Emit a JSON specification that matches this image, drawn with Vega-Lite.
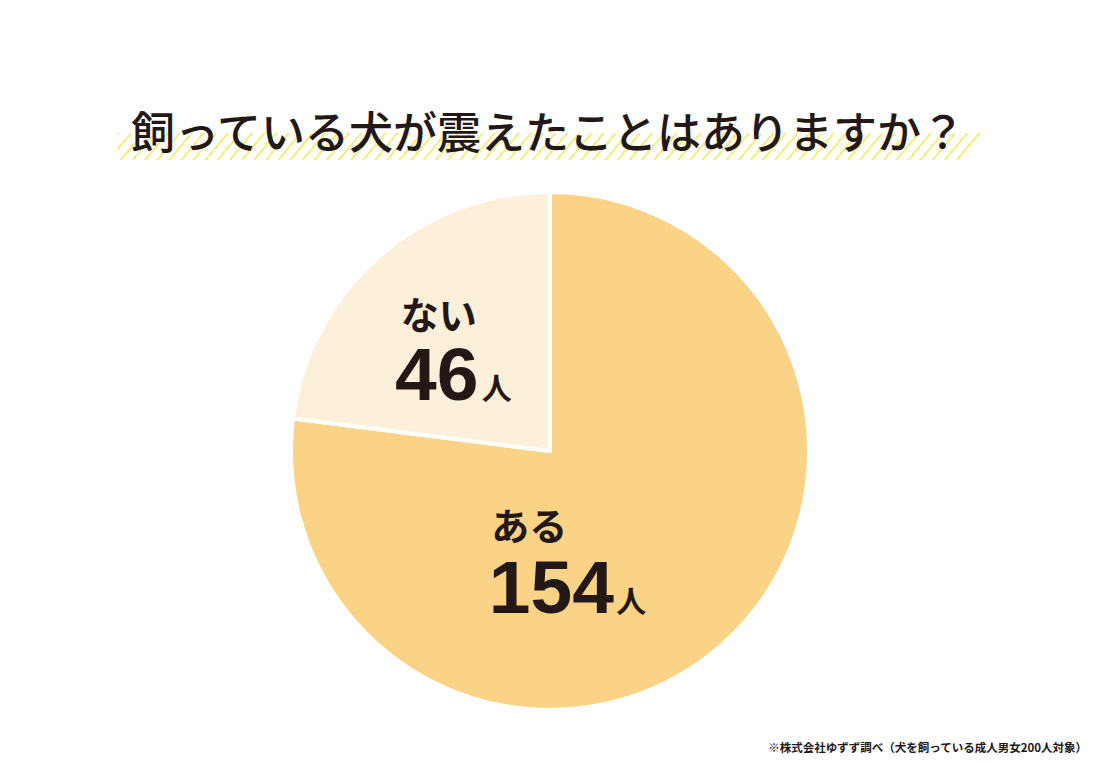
{
  "$schema": "https://vega.github.io/schema/vega-lite/v6.json",
  "padding": {"top": 114, "left": 0, "right": 0, "bottom": 0},
  "background": "white",
  "config": {"view": {"stroke": null}},
  "title": {
    "text": "※株式会社ゆずず調べ（犬を飼っている成人男女200人対象）",
    "orient": "bottom", "anchor": "end", "font": "Noto Sans CJK JP", "fontSize": 11.5, "fontWeight": "bold",
    "color": "#231815", "offset": 40, "baseline": "alphabetic", "dx": -13
  },
  "center": true,
  "spacing": 30,
  "vconcat": [
    {
      "width": 865,
      "height": 27,
      "data": {"values": [{"band": "title"}]},
      "layer": [
        {
          "mark": {
            "type": "rect",
            "fill": {
              "gradient": "linear", "x1": 0, "y1": 0, "x2": 1, "y2": 0.026,
              "stops": [
                {"offset": 0, "color": "#F4EF8F"}, {"offset": 0.0035, "color": "#F4EF8F"}, {"offset": 0.0035, "color": "#FFFFFF"}, {"offset": 0.014, "color": "#FFFFFF"},
                {"offset": 0.014, "color": "#F4EF8F"}, {"offset": 0.0175, "color": "#F4EF8F"}, {"offset": 0.0175, "color": "#FFFFFF"}, {"offset": 0.028, "color": "#FFFFFF"},
                {"offset": 0.028, "color": "#F4EF8F"}, {"offset": 0.0315, "color": "#F4EF8F"}, {"offset": 0.0315, "color": "#FFFFFF"}, {"offset": 0.042, "color": "#FFFFFF"},
                {"offset": 0.042, "color": "#F4EF8F"}, {"offset": 0.0455, "color": "#F4EF8F"}, {"offset": 0.0455, "color": "#FFFFFF"}, {"offset": 0.056, "color": "#FFFFFF"},
                {"offset": 0.056, "color": "#F4EF8F"}, {"offset": 0.0595, "color": "#F4EF8F"}, {"offset": 0.0595, "color": "#FFFFFF"}, {"offset": 0.07, "color": "#FFFFFF"},
                {"offset": 0.07, "color": "#F4EF8F"}, {"offset": 0.0735, "color": "#F4EF8F"}, {"offset": 0.0735, "color": "#FFFFFF"}, {"offset": 0.084, "color": "#FFFFFF"},
                {"offset": 0.084, "color": "#F4EF8F"}, {"offset": 0.0875, "color": "#F4EF8F"}, {"offset": 0.0875, "color": "#FFFFFF"}, {"offset": 0.098, "color": "#FFFFFF"},
                {"offset": 0.098, "color": "#F4EF8F"}, {"offset": 0.1015, "color": "#F4EF8F"}, {"offset": 0.1015, "color": "#FFFFFF"}, {"offset": 0.112, "color": "#FFFFFF"},
                {"offset": 0.112, "color": "#F4EF8F"}, {"offset": 0.1155, "color": "#F4EF8F"}, {"offset": 0.1155, "color": "#FFFFFF"}, {"offset": 0.126, "color": "#FFFFFF"},
                {"offset": 0.126, "color": "#F4EF8F"}, {"offset": 0.1295, "color": "#F4EF8F"}, {"offset": 0.1295, "color": "#FFFFFF"}, {"offset": 0.14, "color": "#FFFFFF"},
                {"offset": 0.14, "color": "#F4EF8F"}, {"offset": 0.1435, "color": "#F4EF8F"}, {"offset": 0.1435, "color": "#FFFFFF"}, {"offset": 0.154, "color": "#FFFFFF"},
                {"offset": 0.154, "color": "#F4EF8F"}, {"offset": 0.1575, "color": "#F4EF8F"}, {"offset": 0.1575, "color": "#FFFFFF"}, {"offset": 0.168, "color": "#FFFFFF"},
                {"offset": 0.168, "color": "#F4EF8F"}, {"offset": 0.1715, "color": "#F4EF8F"}, {"offset": 0.1715, "color": "#FFFFFF"}, {"offset": 0.182, "color": "#FFFFFF"},
                {"offset": 0.182, "color": "#F4EF8F"}, {"offset": 0.1855, "color": "#F4EF8F"}, {"offset": 0.1855, "color": "#FFFFFF"}, {"offset": 0.196, "color": "#FFFFFF"},
                {"offset": 0.196, "color": "#F4EF8F"}, {"offset": 0.1995, "color": "#F4EF8F"}, {"offset": 0.1995, "color": "#FFFFFF"}, {"offset": 0.21, "color": "#FFFFFF"},
                {"offset": 0.21, "color": "#F4EF8F"}, {"offset": 0.2135, "color": "#F4EF8F"}, {"offset": 0.2135, "color": "#FFFFFF"}, {"offset": 0.224, "color": "#FFFFFF"},
                {"offset": 0.224, "color": "#F4EF8F"}, {"offset": 0.2275, "color": "#F4EF8F"}, {"offset": 0.2275, "color": "#FFFFFF"}, {"offset": 0.238, "color": "#FFFFFF"},
                {"offset": 0.238, "color": "#F4EF8F"}, {"offset": 0.2415, "color": "#F4EF8F"}, {"offset": 0.2415, "color": "#FFFFFF"}, {"offset": 0.252, "color": "#FFFFFF"},
                {"offset": 0.252, "color": "#F4EF8F"}, {"offset": 0.2555, "color": "#F4EF8F"}, {"offset": 0.2555, "color": "#FFFFFF"}, {"offset": 0.266, "color": "#FFFFFF"},
                {"offset": 0.266, "color": "#F4EF8F"}, {"offset": 0.2695, "color": "#F4EF8F"}, {"offset": 0.2695, "color": "#FFFFFF"}, {"offset": 0.28, "color": "#FFFFFF"},
                {"offset": 0.28, "color": "#F4EF8F"}, {"offset": 0.2835, "color": "#F4EF8F"}, {"offset": 0.2835, "color": "#FFFFFF"}, {"offset": 0.294, "color": "#FFFFFF"},
                {"offset": 0.294, "color": "#F4EF8F"}, {"offset": 0.2975, "color": "#F4EF8F"}, {"offset": 0.2975, "color": "#FFFFFF"}, {"offset": 0.308, "color": "#FFFFFF"},
                {"offset": 0.308, "color": "#F4EF8F"}, {"offset": 0.3115, "color": "#F4EF8F"}, {"offset": 0.3115, "color": "#FFFFFF"}, {"offset": 0.322, "color": "#FFFFFF"},
                {"offset": 0.322, "color": "#F4EF8F"}, {"offset": 0.3255, "color": "#F4EF8F"}, {"offset": 0.3255, "color": "#FFFFFF"}, {"offset": 0.336, "color": "#FFFFFF"},
                {"offset": 0.336, "color": "#F4EF8F"}, {"offset": 0.3395, "color": "#F4EF8F"}, {"offset": 0.3395, "color": "#FFFFFF"}, {"offset": 0.35, "color": "#FFFFFF"},
                {"offset": 0.35, "color": "#F4EF8F"}, {"offset": 0.3535, "color": "#F4EF8F"}, {"offset": 0.3535, "color": "#FFFFFF"}, {"offset": 0.364, "color": "#FFFFFF"},
                {"offset": 0.364, "color": "#F4EF8F"}, {"offset": 0.3675, "color": "#F4EF8F"}, {"offset": 0.3675, "color": "#FFFFFF"}, {"offset": 0.378, "color": "#FFFFFF"},
                {"offset": 0.378, "color": "#F4EF8F"}, {"offset": 0.3815, "color": "#F4EF8F"}, {"offset": 0.3815, "color": "#FFFFFF"}, {"offset": 0.392, "color": "#FFFFFF"},
                {"offset": 0.392, "color": "#F4EF8F"}, {"offset": 0.3955, "color": "#F4EF8F"}, {"offset": 0.3955, "color": "#FFFFFF"}, {"offset": 0.406, "color": "#FFFFFF"},
                {"offset": 0.406, "color": "#F4EF8F"}, {"offset": 0.4095, "color": "#F4EF8F"}, {"offset": 0.4095, "color": "#FFFFFF"}, {"offset": 0.42, "color": "#FFFFFF"},
                {"offset": 0.42, "color": "#F4EF8F"}, {"offset": 0.4235, "color": "#F4EF8F"}, {"offset": 0.4235, "color": "#FFFFFF"}, {"offset": 0.434, "color": "#FFFFFF"},
                {"offset": 0.434, "color": "#F4EF8F"}, {"offset": 0.4375, "color": "#F4EF8F"}, {"offset": 0.4375, "color": "#FFFFFF"}, {"offset": 0.448, "color": "#FFFFFF"},
                {"offset": 0.448, "color": "#F4EF8F"}, {"offset": 0.4515, "color": "#F4EF8F"}, {"offset": 0.4515, "color": "#FFFFFF"}, {"offset": 0.462, "color": "#FFFFFF"},
                {"offset": 0.462, "color": "#F4EF8F"}, {"offset": 0.4655, "color": "#F4EF8F"}, {"offset": 0.4655, "color": "#FFFFFF"}, {"offset": 0.476, "color": "#FFFFFF"},
                {"offset": 0.476, "color": "#F4EF8F"}, {"offset": 0.4795, "color": "#F4EF8F"}, {"offset": 0.4795, "color": "#FFFFFF"}, {"offset": 0.49, "color": "#FFFFFF"},
                {"offset": 0.49, "color": "#F4EF8F"}, {"offset": 0.4935, "color": "#F4EF8F"}, {"offset": 0.4935, "color": "#FFFFFF"}, {"offset": 0.504, "color": "#FFFFFF"},
                {"offset": 0.504, "color": "#F4EF8F"}, {"offset": 0.5075, "color": "#F4EF8F"}, {"offset": 0.5075, "color": "#FFFFFF"}, {"offset": 0.518, "color": "#FFFFFF"},
                {"offset": 0.518, "color": "#F4EF8F"}, {"offset": 0.5215, "color": "#F4EF8F"}, {"offset": 0.5215, "color": "#FFFFFF"}, {"offset": 0.532, "color": "#FFFFFF"},
                {"offset": 0.532, "color": "#F4EF8F"}, {"offset": 0.5355, "color": "#F4EF8F"}, {"offset": 0.5355, "color": "#FFFFFF"}, {"offset": 0.546, "color": "#FFFFFF"},
                {"offset": 0.546, "color": "#F4EF8F"}, {"offset": 0.5495, "color": "#F4EF8F"}, {"offset": 0.5495, "color": "#FFFFFF"}, {"offset": 0.56, "color": "#FFFFFF"},
                {"offset": 0.56, "color": "#F4EF8F"}, {"offset": 0.5635, "color": "#F4EF8F"}, {"offset": 0.5635, "color": "#FFFFFF"}, {"offset": 0.574, "color": "#FFFFFF"},
                {"offset": 0.574, "color": "#F4EF8F"}, {"offset": 0.5775, "color": "#F4EF8F"}, {"offset": 0.5775, "color": "#FFFFFF"}, {"offset": 0.588, "color": "#FFFFFF"},
                {"offset": 0.588, "color": "#F4EF8F"}, {"offset": 0.5915, "color": "#F4EF8F"}, {"offset": 0.5915, "color": "#FFFFFF"}, {"offset": 0.602, "color": "#FFFFFF"},
                {"offset": 0.602, "color": "#F4EF8F"}, {"offset": 0.6055, "color": "#F4EF8F"}, {"offset": 0.6055, "color": "#FFFFFF"}, {"offset": 0.616, "color": "#FFFFFF"},
                {"offset": 0.616, "color": "#F4EF8F"}, {"offset": 0.6195, "color": "#F4EF8F"}, {"offset": 0.6195, "color": "#FFFFFF"}, {"offset": 0.63, "color": "#FFFFFF"},
                {"offset": 0.63, "color": "#F4EF8F"}, {"offset": 0.6335, "color": "#F4EF8F"}, {"offset": 0.6335, "color": "#FFFFFF"}, {"offset": 0.644, "color": "#FFFFFF"},
                {"offset": 0.644, "color": "#F4EF8F"}, {"offset": 0.6475, "color": "#F4EF8F"}, {"offset": 0.6475, "color": "#FFFFFF"}, {"offset": 0.658, "color": "#FFFFFF"},
                {"offset": 0.658, "color": "#F4EF8F"}, {"offset": 0.6615, "color": "#F4EF8F"}, {"offset": 0.6615, "color": "#FFFFFF"}, {"offset": 0.672, "color": "#FFFFFF"},
                {"offset": 0.672, "color": "#F4EF8F"}, {"offset": 0.6755, "color": "#F4EF8F"}, {"offset": 0.6755, "color": "#FFFFFF"}, {"offset": 0.686, "color": "#FFFFFF"},
                {"offset": 0.686, "color": "#F4EF8F"}, {"offset": 0.6895, "color": "#F4EF8F"}, {"offset": 0.6895, "color": "#FFFFFF"}, {"offset": 0.7, "color": "#FFFFFF"},
                {"offset": 0.7, "color": "#F4EF8F"}, {"offset": 0.7035, "color": "#F4EF8F"}, {"offset": 0.7035, "color": "#FFFFFF"}, {"offset": 0.714, "color": "#FFFFFF"},
                {"offset": 0.714, "color": "#F4EF8F"}, {"offset": 0.7175, "color": "#F4EF8F"}, {"offset": 0.7175, "color": "#FFFFFF"}, {"offset": 0.728, "color": "#FFFFFF"},
                {"offset": 0.728, "color": "#F4EF8F"}, {"offset": 0.7315, "color": "#F4EF8F"}, {"offset": 0.7315, "color": "#FFFFFF"}, {"offset": 0.742, "color": "#FFFFFF"},
                {"offset": 0.742, "color": "#F4EF8F"}, {"offset": 0.7455, "color": "#F4EF8F"}, {"offset": 0.7455, "color": "#FFFFFF"}, {"offset": 0.756, "color": "#FFFFFF"},
                {"offset": 0.756, "color": "#F4EF8F"}, {"offset": 0.7595, "color": "#F4EF8F"}, {"offset": 0.7595, "color": "#FFFFFF"}, {"offset": 0.77, "color": "#FFFFFF"},
                {"offset": 0.77, "color": "#F4EF8F"}, {"offset": 0.7735, "color": "#F4EF8F"}, {"offset": 0.7735, "color": "#FFFFFF"}, {"offset": 0.784, "color": "#FFFFFF"},
                {"offset": 0.784, "color": "#F4EF8F"}, {"offset": 0.7875, "color": "#F4EF8F"}, {"offset": 0.7875, "color": "#FFFFFF"}, {"offset": 0.798, "color": "#FFFFFF"},
                {"offset": 0.798, "color": "#F4EF8F"}, {"offset": 0.8015, "color": "#F4EF8F"}, {"offset": 0.8015, "color": "#FFFFFF"}, {"offset": 0.812, "color": "#FFFFFF"},
                {"offset": 0.812, "color": "#F4EF8F"}, {"offset": 0.8155, "color": "#F4EF8F"}, {"offset": 0.8155, "color": "#FFFFFF"}, {"offset": 0.826, "color": "#FFFFFF"},
                {"offset": 0.826, "color": "#F4EF8F"}, {"offset": 0.8295, "color": "#F4EF8F"}, {"offset": 0.8295, "color": "#FFFFFF"}, {"offset": 0.84, "color": "#FFFFFF"},
                {"offset": 0.84, "color": "#F4EF8F"}, {"offset": 0.8435, "color": "#F4EF8F"}, {"offset": 0.8435, "color": "#FFFFFF"}, {"offset": 0.854, "color": "#FFFFFF"},
                {"offset": 0.854, "color": "#F4EF8F"}, {"offset": 0.8575, "color": "#F4EF8F"}, {"offset": 0.8575, "color": "#FFFFFF"}, {"offset": 0.868, "color": "#FFFFFF"},
                {"offset": 0.868, "color": "#F4EF8F"}, {"offset": 0.8715, "color": "#F4EF8F"}, {"offset": 0.8715, "color": "#FFFFFF"}, {"offset": 0.882, "color": "#FFFFFF"},
                {"offset": 0.882, "color": "#F4EF8F"}, {"offset": 0.8855, "color": "#F4EF8F"}, {"offset": 0.8855, "color": "#FFFFFF"}, {"offset": 0.896, "color": "#FFFFFF"},
                {"offset": 0.896, "color": "#F4EF8F"}, {"offset": 0.8995, "color": "#F4EF8F"}, {"offset": 0.8995, "color": "#FFFFFF"}, {"offset": 0.91, "color": "#FFFFFF"},
                {"offset": 0.91, "color": "#F4EF8F"}, {"offset": 0.9135, "color": "#F4EF8F"}, {"offset": 0.9135, "color": "#FFFFFF"}, {"offset": 0.924, "color": "#FFFFFF"},
                {"offset": 0.924, "color": "#F4EF8F"}, {"offset": 0.9275, "color": "#F4EF8F"}, {"offset": 0.9275, "color": "#FFFFFF"}, {"offset": 0.938, "color": "#FFFFFF"},
                {"offset": 0.938, "color": "#F4EF8F"}, {"offset": 0.9415, "color": "#F4EF8F"}, {"offset": 0.9415, "color": "#FFFFFF"}, {"offset": 0.952, "color": "#FFFFFF"},
                {"offset": 0.952, "color": "#F4EF8F"}, {"offset": 0.9555, "color": "#F4EF8F"}, {"offset": 0.9555, "color": "#FFFFFF"}, {"offset": 0.966, "color": "#FFFFFF"},
                {"offset": 0.966, "color": "#F4EF8F"}, {"offset": 0.9695, "color": "#F4EF8F"}, {"offset": 0.9695, "color": "#FFFFFF"}, {"offset": 0.98, "color": "#FFFFFF"},
                {"offset": 0.98, "color": "#F4EF8F"}, {"offset": 0.9835, "color": "#F4EF8F"}, {"offset": 0.9835, "color": "#FFFFFF"}, {"offset": 0.994, "color": "#FFFFFF"},
                {"offset": 0.994, "color": "#F4EF8F"}, {"offset": 0.9975, "color": "#F4EF8F"}, {"offset": 0.9975, "color": "#FFFFFF"}, {"offset": 1, "color": "#FFFFFF"}
              ]
            }
          },
          "encoding": {}
        },
        {
          "mark": {
            "type": "text", "text": "飼っている犬が震えたことはありますか？",
            "font": "Noto Sans CJK JP", "fontSize": 44, "fontWeight": 500, "color": "#231815",
            "align": "center", "baseline": "alphabetic", "dx": -2, "dy": 2.5
          },
          "encoding": {}
        }
      ]
    },
    {
      "width": 1100,
      "height": 520,
      "data": {"values": [
        {"answer": "ある", "count": 154},
        {"answer": "ない", "count": 46}
      ]},
      "encoding": {
        "theta": {"field": "count", "type": "quantitative", "stack": true},
        "order": {"field": "count", "type": "quantitative", "sort": "descending"}
      },
      "layer": [
        {
          "mark": {"type": "arc", "outerRadius": 259, "stroke": "#FFFFFF", "strokeWidth": 4, "strokeJoin": "round"},
          "encoding": {
            "color": {"field": "answer", "type": "nominal", "scale": {"domain": ["ある", "ない"], "range": ["#FAD386", "#FDF0DA"]}, "legend": null}
          }
        },
        {
          "mark": {"type": "text", "radius": 150, "dx": -12, "dy": -9, "align": "center", "baseline": "alphabetic", "font": "Noto Sans CJK JP", "fontSize": 38, "fontWeight": "bold", "color": "#231815"},
          "encoding": {
            "detail": {"field": "answer", "type": "nominal"},
            "text": {"condition": {"test": "datum.answer === 'ない'", "field": "answer", "type": "nominal"}, "value": ""}
          }
        },
        {
          "mark": {"type": "text", "radius": 150, "dx": -14, "dy": 61.5, "align": "center", "baseline": "alphabetic", "font": "Liberation Sans", "fontSize": 75, "fontWeight": "bold", "color": "#231815"},
          "encoding": {
            "detail": {"field": "answer", "type": "nominal"},
            "text": {"condition": {"test": "datum.answer === 'ない'", "field": "count", "type": "quantitative"}, "value": ""}
          }
        },
        {
          "mark": {"type": "text", "radius": 150, "dx": 46, "dy": 60.5, "align": "center", "baseline": "alphabetic", "font": "Noto Sans CJK JP", "fontSize": 30, "fontWeight": "bold", "color": "#231815", "text": "人"},
          "encoding": {
            "detail": {"field": "answer", "type": "nominal"},
            "opacity": {"condition": {"test": "datum.answer === 'ない'", "value": 1}, "value": 0}
          }
        },
        {
          "mark": {"type": "text", "radius": 120, "dx": -100, "dy": -1, "align": "center", "baseline": "alphabetic", "font": "Noto Sans CJK JP", "fontSize": 38, "fontWeight": "bold", "color": "#231815"},
          "encoding": {
            "detail": {"field": "answer", "type": "nominal"},
            "text": {"condition": {"test": "datum.answer === 'ある'", "field": "answer", "type": "nominal"}, "value": ""}
          }
        },
        {
          "mark": {"type": "text", "radius": 120, "dx": -78, "dy": 72, "align": "center", "baseline": "alphabetic", "font": "Liberation Sans", "fontSize": 75, "fontWeight": "bold", "color": "#231815"},
          "encoding": {
            "detail": {"field": "answer", "type": "nominal"},
            "text": {"condition": {"test": "datum.answer === 'ある'", "field": "count", "type": "quantitative"}, "value": ""}
          }
        },
        {
          "mark": {"type": "text", "radius": 120, "dx": 2, "dy": 71, "align": "center", "baseline": "alphabetic", "font": "Noto Sans CJK JP", "fontSize": 30, "fontWeight": "bold", "color": "#231815", "text": "人"},
          "encoding": {
            "detail": {"field": "answer", "type": "nominal"},
            "opacity": {"condition": {"test": "datum.answer === 'ある'", "value": 1}, "value": 0}
          }
        }
      ]
    }
  ]
}
